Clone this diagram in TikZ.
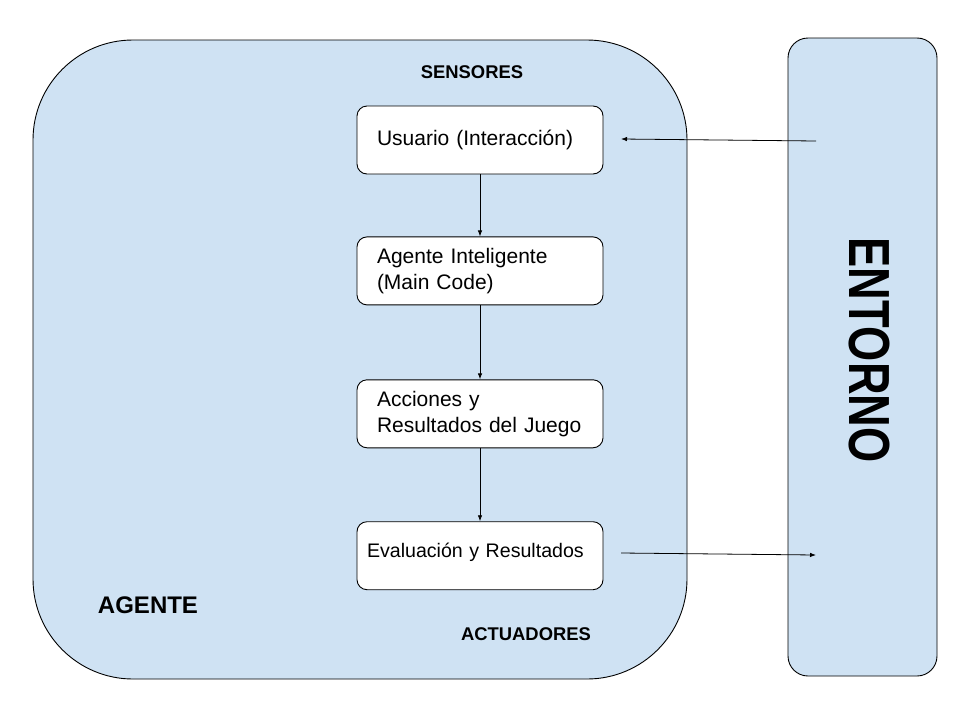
\documentclass[tikz,border=0pt]{standalone}
\usepackage{fontspec}
\setmainfont{Liberation Sans}
\usetikzlibrary{arrows.meta,positioning}
\definecolor{paleblue}{HTML}{CFE2F3}

\begin{document}
\begin{tikzpicture}[
  x=1pt, y=-1pt,
  node distance=62pt,
  panel/.style={draw,fill=paleblue,line width=0.9pt},
  box/.style={draw,fill=white,rounded corners=10pt,line width=0.9pt,minimum width=246pt,minimum height=68pt,text width=206pt,inner xsep=20pt,align=left,font=\fontsize{21}{26}\selectfont},
  tag/.style={font=\bfseries\fontsize{18.4}{22}\selectfont},
  arr/.style={-{Latex[length=6pt,width=4.5pt]},line width=0.8pt}
]
\useasboundingbox (0,0) rectangle (960,720);
\node[panel,rounded corners=100pt,minimum width=654pt,minimum height=639pt] (agente) at (360,359.5) {};
\node[panel,rounded corners=20pt,minimum width=149pt,minimum height=638pt] (entorno) at (862.5,357) {};
\node[tag] (sensores) at (472,72) {SENSORES};
\node[tag] (actuadores) at (526,634) {ACTUADORES};
\node[font=\bfseries\fontsize{24}{28}\selectfont] (agentelbl) at (148,605) {AGENTE};
\node[rotate=-90,font=\bfseries\fontsize{58}{60}\selectfont] (entornolbl) at (869,350) {\scalebox{0.78}[1]{ENTORNO}};
\node[box] (usuario) at (480,140) {Usuario (Interacción)};
\node[box, below=of usuario] (agentei) {Agente Inteligente\\(Main Code)};
\node[box, below=74pt of agentei] (acciones) {Acciones y\\Resultados del Juego};
\node[box, below=73pt of acciones, inner xsep=10pt, text width=226pt, font=\fontsize{19.6}{24}\selectfont] (evaluacion) {Evaluación y Resultados\vspace{6pt}};
\coordinate (sensin) at (816,141);
\coordinate (sensout) at (621,139);
\coordinate (actin) at (621,553);
\coordinate (actout) at (816,555);
\draw[arr] (usuario) -- (agentei);
\draw[arr] (agentei) -- (acciones);
\draw[arr] (acciones) -- (evaluacion);
\draw[arr] (sensin) -- (sensout);
\draw[arr] (actin) -- (actout);
\end{tikzpicture}
\end{document}
